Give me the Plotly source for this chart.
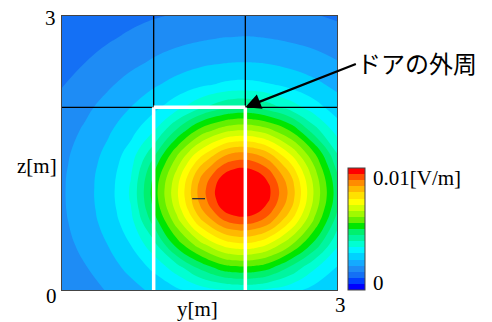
import plotly.graph_objects as go

# Grid coordinates (m), refined near the field maximum
y_m = [0.0, 0.25, 0.5, 0.75, 1.0, 1.25, 1.5, 1.75, 1.875, 2.0, 2.125, 2.25, 2.5, 2.75, 3.0]
z_m = [0.0, 0.25, 0.5, 0.75, 0.875, 1.0, 1.125, 1.25, 1.375, 1.5, 1.75, 2.0, 2.25, 2.5, 2.75, 3.0]

# Electric field magnitude, in 1e-3 V/m (rows: z from 0 to 3, columns: y from 0 to 3)
field_mVm = [
    [1.54, 1.78, 2.04, 2.32, 2.61, 2.91, 3.24, 3.47, 3.56, 3.58, 3.53, 3.41, 3.17, 2.82, 2.54],
    [1.69, 1.97, 2.29, 2.65, 3.12, 3.78, 4.63, 5.28, 5.41, 5.44, 5.36, 5.18, 4.42, 3.59, 2.98],
    [1.81, 2.15, 2.51, 3.01, 3.84, 5.21, 6.29, 7.15, 7.36, 7.41, 7.28, 6.99, 6.06, 4.86, 3.58],
    [1.90, 2.27, 2.68, 3.33, 4.69, 6.26, 7.81, 8.90, 9.16, 9.21, 9.05, 8.72, 7.45, 5.91, 4.26],
    [1.93, 2.30, 2.73, 3.45, 5.01, 6.64, 8.35, 9.49, 9.80, 9.88, 9.67, 9.26, 7.96, 6.23, 4.55],
    [1.94, 2.32, 2.76, 3.55, 5.18, 6.86, 8.62, 9.84, 10.27, 10.37, 10.10, 9.59, 8.24, 6.42, 4.72],
    [1.94, 2.32, 2.76, 3.55, 5.19, 6.87, 8.64, 9.86, 10.30, 10.41, 10.13, 9.61, 8.25, 6.43, 4.72],
    [1.93, 2.31, 2.74, 3.47, 5.04, 6.68, 8.40, 9.54, 9.87, 9.95, 9.73, 9.31, 8.00, 6.26, 4.58],
    [1.90, 2.27, 2.69, 3.35, 4.74, 6.31, 7.88, 8.97, 9.24, 9.30, 9.13, 8.79, 7.52, 5.96, 4.30],
    [1.87, 2.22, 2.62, 3.21, 4.31, 5.85, 7.19, 8.24, 8.51, 8.55, 8.40, 8.04, 6.88, 5.52, 3.99],
    [1.76, 2.07, 2.42, 2.82, 3.45, 4.54, 5.62, 6.27, 6.45, 6.49, 6.38, 6.16, 5.41, 4.22, 3.29],
    [1.62, 1.88, 2.19, 2.50, 2.85, 3.31, 3.90, 4.36, 4.50, 4.53, 4.45, 4.25, 3.76, 3.21, 2.75],
    [1.48, 1.69, 1.92, 2.19, 2.43, 2.67, 2.89, 3.07, 3.12, 3.13, 3.10, 3.04, 2.82, 2.62, 2.37],
    [1.33, 1.49, 1.68, 1.86, 2.06, 2.24, 2.37, 2.45, 2.48, 2.48, 2.47, 2.44, 2.34, 2.20, 2.02],
    [1.17, 1.31, 1.45, 1.59, 1.74, 1.85, 1.95, 2.02, 2.03, 2.04, 2.03, 2.01, 1.93, 1.83, 1.70],
    [1.03, 1.14, 1.25, 1.37, 1.46, 1.54, 1.62, 1.66, 1.67, 1.68, 1.67, 1.65, 1.60, 1.53, 1.44],
]

# Geometry (m)
door_y = [1.0, 2.0]        # door left / right edge
door_top = 2.0             # door top edge
panel_y = [1.0, 2.0]       # panel seams above the door
panel_z = 2.0              # horizontal seam
handle_y = [1.42, 1.56]
handle_z = 1.0

# Discrete band colours (20 bands of 0.5e-3 V/m from 0 to 0.01 V/m)
band_colors = [
    "#0000ff", "#0040ff", "#1470f5", "#1e8cf5", "#14aaff",
    "#00d2ff", "#00f5ff", "#00ffd2", "#00f5a0", "#00f06e",
    "#00e600", "#64f000", "#a0fa00", "#d2ff00", "#ffff00",
    "#ffe100", "#ffb900", "#ff8c00", "#ff5000", "#ff0000",
]
n = len(band_colors)
colorscale = [[i / (n - 1), c] for i, c in enumerate(band_colors)]

serif = "Liberation Serif"

fig = go.Figure()
fig.add_trace(go.Contour(
    x=y_m, y=z_m, z=field_mVm,
    colorscale=colorscale,
    autocontour=False,
    contours=dict(start=0.5, end=9.5, size=0.5, coloring="fill", showlines=False),
    line=dict(width=0, smoothing=1.3),
    zmin=0, zmax=10,
    colorbar=dict(
        x=(348 - 62) / 275, xanchor="left", xpad=0,
        y=0, yanchor="bottom", ypad=0,
        lenmode="pixels", len=122,
        thickness=17,
        outlinewidth=1, outlinecolor="#444",
        showticklabels=False, ticks="",
    ),
    hoverinfo="skip",
))

shapes = []
# black panel seams
for yy in panel_y:
    shapes.append(dict(type="line", xref="x", yref="y", x0=yy, x1=yy, y0=panel_z, y1=3,
                       line=dict(color="black", width=1.3)))
shapes.append(dict(type="line", xref="x", yref="y", x0=0, x1=3, y0=panel_z, y1=panel_z,
                   line=dict(color="black", width=1.3)))
# white door outline
for yy in door_y:
    shapes.append(dict(type="line", xref="x", yref="y", x0=yy, x1=yy, y0=0, y1=door_top,
                       line=dict(color="white", width=3.5)))
shapes.append(dict(type="line", xref="x", yref="y", x0=door_y[0], x1=door_y[1], y0=door_top, y1=door_top,
                   line=dict(color="white", width=3.5)))
# handle mark
shapes.append(dict(type="line", xref="x", yref="y", x0=handle_y[0], x1=handle_y[1], y0=handle_z, y1=handle_z,
                   line=dict(color="#333", width=1.3)))

def px(xp):
    return (xp - 62) / 275

def py(yp):
    return (290 - yp) / 274

lab = dict(family=serif, size=21, color="black")
annotations = [
    dict(text="3", x=px(58), y=py(18), xref="paper", yref="paper", xanchor="right", yanchor="middle", showarrow=False, font=lab),
    dict(text="0", x=px(59), y=py(296), xref="paper", yref="paper", xanchor="right", yanchor="middle", showarrow=False, font=lab),
    dict(text="3", x=px(340), y=py(305), xref="paper", yref="paper", xanchor="center", yanchor="middle", showarrow=False, font=lab),
    dict(text="y[m]", x=px(197), y=py(309), xref="paper", yref="paper", xanchor="center", yanchor="middle", showarrow=False, font=lab),
    dict(text="z[m]", x=px(59), y=py(166), xref="paper", yref="paper", xanchor="right", yanchor="middle", showarrow=False, font=lab),
    dict(text="0.01[V/m]", x=px(371), y=py(178), xref="paper", yref="paper", xanchor="left", yanchor="middle", showarrow=False, font=lab),
    dict(text="0", x=px(371), y=py(283), xref="paper", yref="paper", xanchor="left", yanchor="middle", showarrow=False, font=lab),
    dict(text="ドアの外周", x=px(355), y=py(62), xref="paper", yref="paper", xanchor="left", yanchor="middle", showarrow=False,
         font=dict(family="Noto Sans CJK JP", size=24, color="black")),
    dict(text="", x=door_y[1], y=door_top, xref="x", yref="y", showarrow=True,
         ax=112, ay=-44, axref="pixel", ayref="pixel",
         arrowhead=2, arrowsize=1.4, arrowwidth=2.2, arrowcolor="black", standoff=0),
]

fig.update_layout(
    width=492, height=322,
    margin=dict(l=62, r=155, t=16, b=32),
    paper_bgcolor="white", plot_bgcolor="white",
    showlegend=False,
    shapes=shapes,
    annotations=annotations,
    xaxis=dict(range=[0, 3], showgrid=False, zeroline=False, showticklabels=False, ticks="",
               showline=True, mirror=True, linecolor="#444", linewidth=1.2, fixedrange=True),
    yaxis=dict(range=[0, 3], showgrid=False, zeroline=False, showticklabels=False, ticks="",
               showline=True, mirror=True, linecolor="#444", linewidth=1.2, fixedrange=True),
)

fig.write_html(
    "out.html",
    config={"displayModeBar": False},
    post_script="document.body.style.margin='0';document.body.style.overflow='hidden';",
)
